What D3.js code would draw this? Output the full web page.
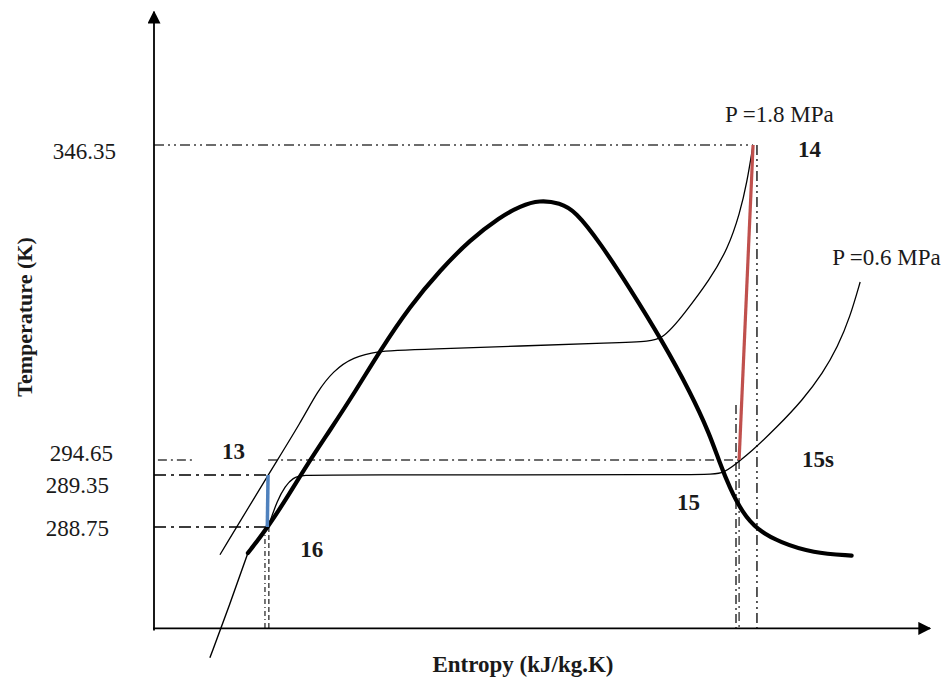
<!DOCTYPE html>
<html>
<head>
<meta charset="utf-8">
<script src="https://cdn.jsdelivr.net/npm/d3@7"></script>
<style>
  body { margin: 0; background: #fff; }
  svg text { font-family: "Liberation Serif", "Times New Roman", serif; fill: #1a1a1a; }
</style>
</head>
<body>
<div id="chart"></div>
<script>
/* diagramme T-s (schématique) : dôme de saturation, deux isobares,
 * compression 14 -> 15s et pompe 13 -> 16 */

// valeurs (entropie en unités arbitraires 0-100)
const tempTicks = [346.35, 294.65, 289.35, 288.75]
const tempTickLabels = ["346.35", "294.65", "289.35", "288.75"]

const domeS = [12.1, 14.7, 17.5, 19.7, 22.7, 25.9, 29.1, 33.0, 36.9, 40.7, 44.6, 47.2, 49.7, 52.3, 54.3, 57.5, 61.3, 65.5, 69.1, 71.6, 72.9, 74.2, 75.8, 77.7, 80.7, 84.9, 89.9]
const domeT = [288.45, 288.75, 289.14, 292.88, 299.57, 305.81, 312.54, 319.93, 325.83, 330.76, 334.53, 336.34, 337.32, 336.83, 335.52, 330.27, 322.88, 314.18, 305.81, 298.92, 293.59, 289.20, 288.92, 288.72, 288.57, 288.45, 288.42]

// prolongement liquide sous le dôme
const liquidS = [7.2, 9.7, 12.1]
const liquidT = [287.24, 287.84, 288.45]

// isobare P = 1.8 MPa
const p18S = [8.5, 14.7, 19.1, 21.0, 23.1, 25.6, 29.1, 31.7, 62.6, 65.5, 68.4, 71.6, 74.0, 75.5, 76.4, 77.2]
const p18T = [288.43, 289.35, 301.22, 305.81, 309.26, 311.56, 312.54, 312.70, 314.02, 314.18, 318.78, 324.19, 329.45, 335.19, 340.11, 346.35]

// isobare P = 0.6 MPa
const p06S = [14.7, 15.9, 16.9, 17.9, 19.2, 22.7, 70.4, 73.3, 75.1, 76.8, 80.3, 83.6, 86.2, 88.1, 89.7, 91.0]
const p06T = [288.75, 289.06, 289.22, 289.32, 289.35, 289.35, 289.5, 289.5, 293.59, 295.80, 300.07, 304.50, 308.93, 313.20, 318.12, 323.87]

// états du cycle
const stateNames = ["13", "14", "15s", "16"]
const stateS = [14.7, 77.2, 75.4, 14.6]
const stateT = [289.35, 346.35, 294.65, 288.75]

const pressureLabels = ["P =1.8 MPa", "P =0.6 MPa"]

const tAxisBottom = 287.58
const tAxisTop = 368.2

const width = 949, height = 681

const svg = d3.select("#chart").append("svg")
    .attr("width", width)
    .attr("height", height)

const x = d3.scaleLinear().domain([0, 100]).range([154, 930])
// échelle par morceaux : les graduations ne sont pas régulières sur la figure
const y = d3.scaleLinear()
    .domain([288.75, 289.35, 294.65, 346.35])
    .range([527, 475, 460, 145])

const st = name => {
    const i = stateNames.indexOf(name)
    return { s: stateS[i], t: stateT[i] }
}

svg.append("defs").append("marker")
    .attr("id", "arrow")
    .attr("viewBox", "0 0 10 10")
    .attr("refX", 9).attr("refY", 5)
    .attr("markerWidth", 13).attr("markerHeight", 13)
    .attr("markerUnits", "userSpaceOnUse")
    .attr("orient", "auto")
    .append("path").attr("d", "M0,0L10,5L0,10z").attr("fill", "#000")

// courbes lissées (b-spline), plus proches du tracé à main levée
const line = d3.line()
    .x(d => x(d[0]))
    .y(d => y(d[1]))
    .curve(d3.curveBasis)

const zip = (a, b) => a.map((v, i) => [v, b[i]])

/* lignes de rappel en trait mixte */
const guides = svg.append("g")
    .attr("fill", "none")
    .attr("stroke", "#3c3c3c")

const hGuide = (s0, s1, t, dash, w) => guides.append("line")
    .attr("x1", x(s0)).attr("x2", x(s1))
    .attr("y1", y(t)).attr("y2", y(t))
    .attr("stroke-width", w)
    .attr("stroke-dasharray", dash)
const vGuide = (s, t0, t1, dash, w) => guides.append("line")
    .attr("x1", x(s)).attr("x2", x(s))
    .attr("y1", y(t0)).attr("y2", y(t1))
    .attr("stroke-width", w)
    .attr("stroke-dasharray", dash)

hGuide(0, st("14").s, st("14").t, "10,4,2,4,2,4", 1.7)
hGuide(0.5, 5.3, st("15s").t, "9,4,2,4", 1.4)
hGuide(st("13").s, st("15s").s, st("15s").t, "9,4,2,4", 1.4)
hGuide(0, st("13").s, st("13").t, "12,5,3,5", 2.2)
hGuide(0, st("16").s, st("16").t, "12,5,3,5", 2.2)
vGuide(14.3, st("16").t, tAxisBottom, "5,3,1,3", 1.4)
vGuide(14.8, st("16").t, tAxisBottom, "5,3", 1.4)
vGuide(75.0, 303.68, tAxisBottom, "9,4,2,4", 1.6)
vGuide(st("15s").s, st("15s").t, tAxisBottom, "9,4,2,4", 1.4)
vGuide(77.7, st("14").t, tAxisBottom, "10,4,2,4,2,4", 1.7)

/* isobares et dôme */
svg.append("path")
    .attr("d", line(zip(p18S, p18T)))
    .attr("fill", "none").attr("stroke", "#000").attr("stroke-width", 1.3)
svg.append("path")
    .attr("d", line(zip(p06S, p06T)))
    .attr("fill", "none").attr("stroke", "#000").attr("stroke-width", 1.3)
svg.append("path")
    .attr("d", line(zip(liquidS, liquidT)))
    .attr("fill", "none").attr("stroke", "#000").attr("stroke-width", 1.4)
svg.append("path")
    .attr("d", line(zip(domeS, domeT)))
    .attr("fill", "none").attr("stroke", "#000").attr("stroke-width", 4.2)
    .attr("stroke-linecap", "round")

/* compression 14 -> 15s (rouge) et pompe 13 -> 16 (bleu) */
svg.append("line")
    .attr("x1", x(st("14").s)).attr("y1", y(st("14").t))
    .attr("x2", x(st("15s").s)).attr("y2", y(st("15s").t))
    .attr("stroke", "#c0504d").attr("stroke-width", 3.2)
svg.append("line")
    .attr("x1", x(st("13").s)).attr("y1", y(st("13").t))
    .attr("x2", x(st("16").s)).attr("y2", y(st("16").t))
    .attr("stroke", "#4f81bd").attr("stroke-width", 3.5)

/* axes */
svg.append("line")
    .attr("x1", x(0)).attr("x2", x(0))
    .attr("y1", y(tAxisBottom) + 2).attr("y2", y(tAxisTop))
    .attr("stroke", "#000").attr("stroke-width", 1.8)
    .attr("marker-end", "url(#arrow)")
svg.append("line")
    .attr("x1", x(0) - 1).attr("x2", x(100))
    .attr("y1", y(tAxisBottom)).attr("y2", y(tAxisBottom))
    .attr("stroke", "#000").attr("stroke-width", 1.8)
    .attr("marker-end", "url(#arrow)")

const yAxis = svg.append("g")
    .attr("transform", "translate(" + x(0) + ",0)")
    .call(d3.axisLeft(y)
        .tickValues(tempTicks)
        .tickFormat((d, i) => tempTickLabels[i])
        .tickSize(0)
        .tickPadding(40))
yAxis.select(".domain").remove()
// décalages des étiquettes comme sur la figure
const nudge = [[2, 6], [-1, -7], [-5, 10], [-5, 1]]
yAxis.selectAll(".tick text")
    .attr("font-family", null).attr("font-size", null)
    .style("font-size", "23px")
    .attr("fill", null)
    .attr("transform", (d, i) => "translate(" + nudge[i][0] + "," + nudge[i][1] + ")")

svg.append("text")
    .attr("transform", "translate(32,317) rotate(-90)")
    .attr("text-anchor", "middle")
    .style("font-size", "22px").style("font-weight", "bold")
    .text("Temperature (K)")
svg.append("text")
    .attr("x", 523).attr("y", 672)
    .attr("text-anchor", "middle")
    .style("font-size", "23px").style("font-weight", "bold")
    .text("Entropy (kJ/kg.K)")

/* étiquettes des états et des isobares */
const labels = svg.append("g").style("font-size", "23px")
const stateLabel = (txt, px, py) => labels.append("text")
    .attr("x", px).attr("y", py)
    .style("font-weight", "bold")
    .text(txt)
stateLabel("14", x(st("14").s) + 45, y(st("14").t) + 12)
stateLabel("15s", x(st("15s").s) + 63, y(st("15s").t) + 7)
stateLabel("15", x(75.0) - 59, 510)
stateLabel("13", x(st("13").s) - 46, y(st("15s").t) - 1)
stateLabel("16", x(st("16").s) + 33, y(st("16").t) + 30)

labels.append("text")
    .attr("x", x(st("14").s) - 28).attr("y", y(st("14").t) - 23)
    .text(pressureLabels[0])
labels.append("text")
    .attr("x", x(p06S[p06S.length - 1]) - 28).attr("y", y(p06T[p06T.length - 1]) - 17)
    .text(pressureLabels[1])
</script>
</body>
</html>
